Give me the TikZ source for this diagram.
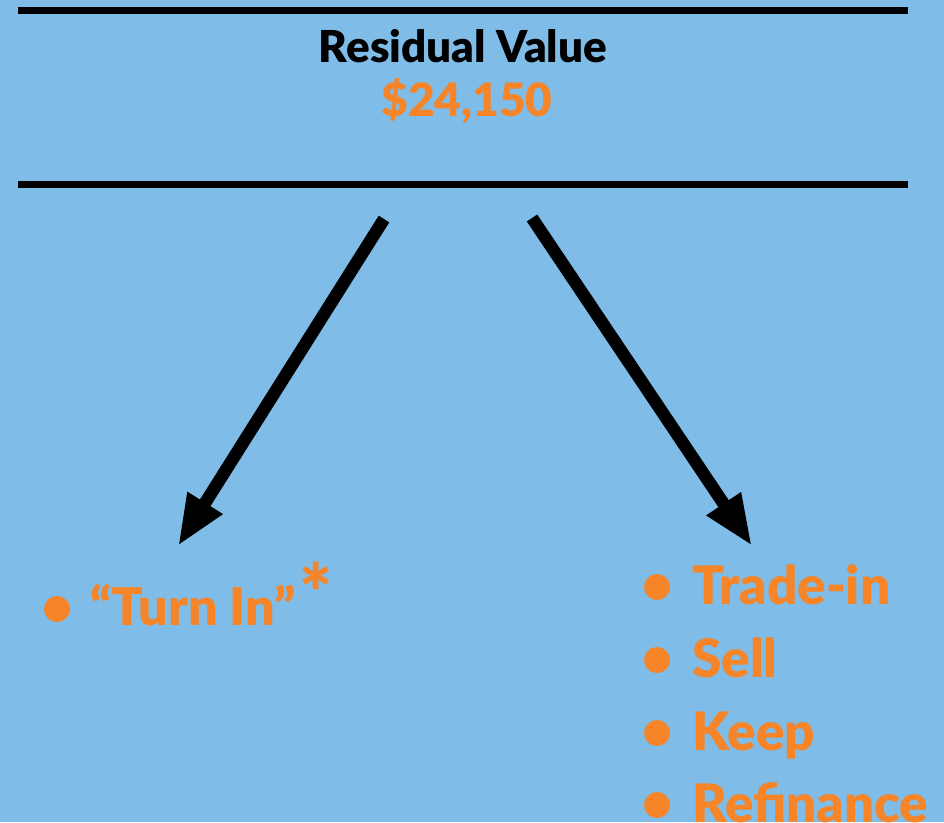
\documentclass[tikz,border=0pt]{standalone}
\usepackage{fontspec}
\setmainfont{Lato}[BoldFont={Lato Black}]
\usetikzlibrary{arrows.meta}
\definecolor{sky}{RGB}{128,188,232}
\definecolor{carrot}{RGB}{245,133,40}
\begin{document}
\begin{tikzpicture}[x=1pt,y=-1pt,
  rule/.style={line width=7pt},
  bigarrow/.style={line width=12.5pt,-{Triangle[length=51pt,width=38pt]}},
  heading/.style={font=\bfseries\fontsize{44}{50}\selectfont,text=black,inner sep=0pt,anchor=base},
  amount/.style={font=\bfseries\fontsize{46}{56}\selectfont,text=carrot,inner sep=0pt,anchor=base},
  item/.style={font=\bfseries\fontsize{53}{60}\selectfont,text=carrot,inner sep=0pt,anchor=base west},
  dot/.style={circle,fill=carrot,inner sep=0pt,minimum size=26pt}]
  % page and background
  \fill[sky] (0,0) rectangle (944,822);
  \useasboundingbox (0,0) rectangle (944,822);

  % two horizontal rules framing the heading
  \draw[rule] (18,10) -- (908,10);
  \draw[rule] (18,184) -- (908,184);

  \node[heading] (title) at (463,62) {Residual Value};
  \node[amount] (value) at (467,116) {\$24,150};

  % arrows
  \coordinate (lstart) at (384,219);
  \coordinate (lend) at (178,546);
  \coordinate (rstart) at (532,218);
  \coordinate (rend) at (752,546);
  \draw[bigarrow] (lstart) -- (lend);
  \draw[bigarrow] (rstart) -- (rend);

  % left option
  \node[dot] (d0) at (57,609) {};
  \node[item,font=\bfseries\fontsize{52}{60}\selectfont] (turnin) at (90,625)
    {“Turn In”\kern4pt\raisebox{4pt}{\fontsize{78}{78}\selectfont *}};

  % right options
  \node[dot] (d1) at (657,587) {};
  \node[item] (trade) at (692,604) {Trade-in};
  \node[dot] (d2) at (657,660) {};
  \node[item] (sell) at (692,677) {Sell};
  \node[dot] (d3) at (657,733) {};
  \node[item] (keep) at (692,750) {Keep};
  \node[dot] (d4) at (657,805) {};
  \node[item] (refi) at (692,822) {Refinance};
\end{tikzpicture}
\end{document}
